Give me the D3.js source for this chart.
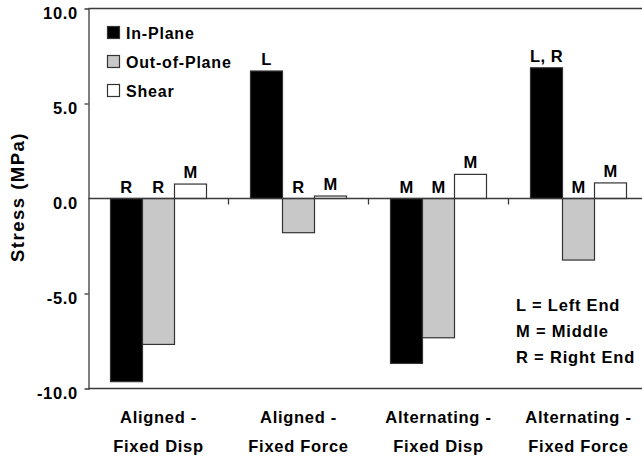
<!DOCTYPE html>
<html>
<head>
<meta charset="utf-8">
<script src="https://cdn.jsdelivr.net/npm/d3@7"></script>
<style>
  html, body { margin: 0; padding: 0; background: #fff; }
  text { font-family: "Liberation Sans", Arial, Helvetica, sans-serif; font-weight: bold; fill: #000; }
</style>
</head>
<body>
<svg id="chart" width="642" height="459"></svg>
<script>
const categories = [["Aligned -", "Fixed Disp"], ["Aligned -", "Fixed Force"], ["Alternating -", "Fixed Disp"], ["Alternating -", "Fixed Force"]];
const seriesNames = ["In-Plane", "Out-of-Plane", "Shear"];
const inPlane    = [-9.64, 6.71, -8.68, 6.88];
const outOfPlane = [-7.68, -1.80, -7.33, -3.24];
const shear      = [0.76, 0.13, 1.27, 0.82];
const inPlaneLoc    = ["R", "L", "M", "L, R"];
const outOfPlaneLoc = ["R", "R", "M", "M"];
const shearLoc      = ["M", "M", "M", "M"];
const yTicks = [10, 5, 0, -5, -10];
const yTickLabels = ["10.0", "5.0", "0.0", "-5.0", "-10.0"];
const keyLines = ["L = Left End", "M = Middle", "R = Right End"];
const yTitle = "Stress (MPa)";

(function () {
const seriesValues = [inPlane, outOfPlane, shear];
const seriesLocs = [inPlaneLoc, outOfPlaneLoc, shearLoc];
const fills = ["#000000", "#c8c8c8", "#ffffff"];

const svg = d3.select("#chart");
svg.append("rect").attr("width", 642).attr("height", 459).attr("fill", "#fff");

const pLeft = 88.5, pRight = 648.5, pTop = 8.5, pBottom = 388.5;
const lineColor = "#3a3a3a";

const y = d3.scaleLinear().domain([-10, 10]).range([pBottom, pTop]);
const x0 = d3.scaleBand().domain(d3.range(categories.length)).range([pLeft, pRight]).padding(0);
const groupW = 96;
const x1 = d3.scaleBand().domain(d3.range(seriesNames.length)).range([0, groupW]).padding(0);
const groupOff = (x0.bandwidth() - groupW) / 2;

const data = [];
categories.forEach((c, ci) => {
  seriesNames.forEach((s, si) => {
    data.push({ci, si, v: seriesValues[si][ci], loc: seriesLocs[si][ci]});
  });
});

svg.append("g").selectAll("rect").data(data).join("rect")
  .attr("x", d => x0(d.ci) + groupOff + x1(d.si))
  .attr("width", x1.bandwidth())
  .attr("y", d => y(Math.max(0, d.v)))
  .attr("height", d => Math.abs(y(d.v) - y(0)))
  .attr("fill", d => fills[d.si])
  .attr("stroke", "#333")
  .attr("stroke-width", 1.2);

const frame = svg.append("g").attr("stroke", lineColor).attr("stroke-width", 1.3).attr("fill", "none");
frame.append("line").attr("x1", pLeft).attr("x2", 642).attr("y1", y(10)).attr("y2", y(10));
frame.append("line").attr("x1", pLeft).attr("x2", 642).attr("y1", y(-10)).attr("y2", y(-10));
frame.append("line").attr("x1", pLeft).attr("x2", 642).attr("y1", y(0)).attr("y2", y(0));
frame.selectAll("line.sep").data(d3.range(1, categories.length)).join("line")
  .attr("class", "sep")
  .attr("x1", d => x0(d)).attr("x2", d => x0(d))
  .attr("y1", y(0)).attr("y2", y(0) + 6);

const yAxis = d3.axisLeft(y).tickValues(yTicks).tickSize(4).tickPadding(6.5)
  .tickFormat((d, i) => yTickLabels[i]);
const ga = svg.append("g").attr("transform", `translate(${pLeft},0)`).call(yAxis);
ga.select(".domain").attr("stroke", lineColor).attr("stroke-width", 1.3);
ga.selectAll(".tick line").attr("stroke", lineColor).attr("stroke-width", 1.3)
  .filter(d => d === 0 || Math.abs(d) === 10).remove();
ga.selectAll(".tick text")
  .attr("fill", "#000")
  .style("font-size", "16.5px")
  .style("font-weight", "bold")
  .style("font-family", "'Liberation Sans', Arial, sans-serif")
  .style("letter-spacing", "0.7px")
  .attr("dy", "0.62em");

svg.append("text")
  .attr("transform", `translate(24,197) rotate(-90)`)
  .attr("text-anchor", "middle")
  .style("font-size", "18.5px")
  .style("letter-spacing", "1.5px")
  .text(yTitle);

const cl = svg.append("g").selectAll("text").data(categories).join("text")
  .attr("text-anchor", "middle")
  .style("font-size", "16.5px")
  .style("letter-spacing", "0.7px");
cl.append("tspan").attr("x", (d, i) => x0(i) + x0.bandwidth() / 2).attr("y", 423).text(d => d[0]);
cl.append("tspan").attr("x", (d, i) => x0(i) + x0.bandwidth() / 2).attr("y", 452).text(d => d[1]);

svg.append("g").selectAll("text").data(data).join("text")
  .attr("x", d => x0(d.ci) + groupOff + x1(d.si) + x1.bandwidth() / 2)
  .attr("y", d => y(Math.max(0, d.v)) - 6)
  .attr("text-anchor", "middle")
  .style("font-size", "16.5px")
  .style("letter-spacing", "0.5px")
  .text(d => d.loc);

const lg = svg.append("g");
seriesNames.forEach((s, i) => {
  const by = 39 + i * 29;
  lg.append("rect").attr("x", 107.5).attr("y", by - 12.5).attr("width", 12).attr("height", 12)
    .attr("fill", fills[i]).attr("stroke", "#333").attr("stroke-width", 1.2);
  lg.append("text").attr("x", 126).attr("y", by)
    .style("font-size", "16px").style("letter-spacing", "0.8px").text(s);
});

svg.append("g").selectAll("text").data(keyLines).join("text")
  .attr("x", 516).attr("y", (d, i) => 311 + i * 26)
  .style("font-size", "16.5px").style("letter-spacing", "0.8px")
  .text(d => d);
})();
</script>
</body>
</html>
